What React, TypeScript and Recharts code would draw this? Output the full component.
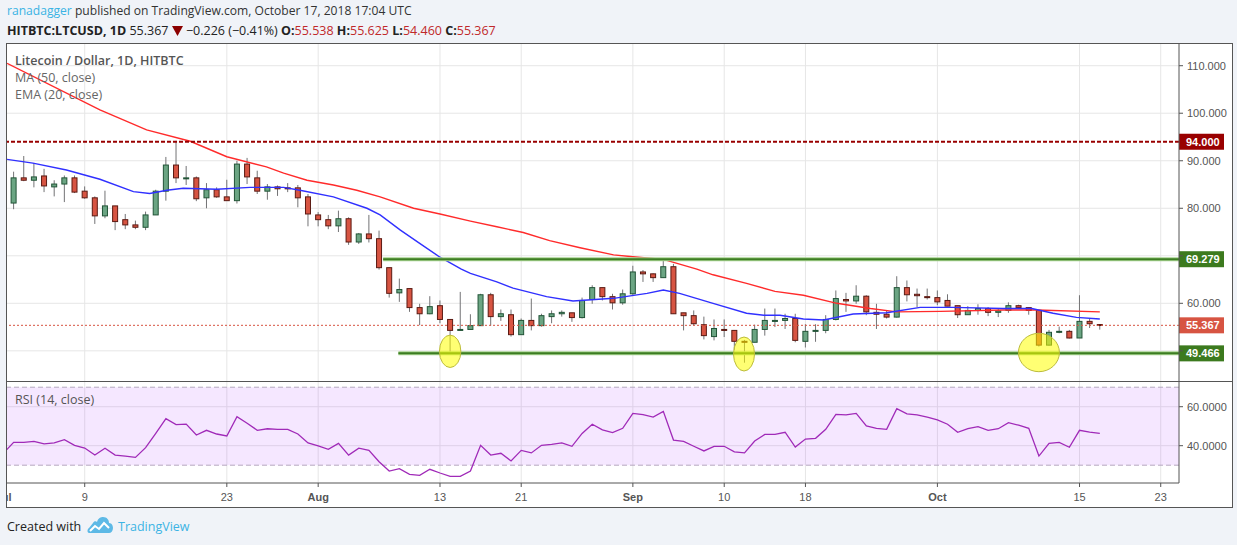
import React from 'react';
import {
  ComposedChart, Bar, Line, XAxis, YAxis, ReferenceLine, ReferenceArea, ReferenceDot, CartesianGrid,
} from 'recharts';

// ---- data (day index: Jul 1 2018 = 0) ----
const opens = [
  81.1, 86.4, 85.9, 86.8, 84.5, 85.1, 86.4, 83.6, 82.2, 78.4,
  80.5, 77.6, 76.5, 76.0, 78.6, 83.6, 89.1, 86.2, 86.4, 82.2,
  83.9, 82.4, 81.6, 89.3, 86.4, 83.6, 84.5, 84.3, 84.3, 82.4,
  78.6, 77.6, 76.3, 77.8, 72.9, 74.6, 73.6, 67.5, 62.2, 63.1,
  59.1, 57.8, 59.5, 56.6, 54.3, 54.5, 55.3, 61.8, 57.2, 57.6,
  53.4, 56.4, 55.3, 57.2, 57.8, 58.0, 57.0, 60.8, 63.3, 61.4,
  60.1, 62.0, 66.6, 66.2, 65.4, 67.7, 58.0, 57.4, 55.5, 53.0,
  54.5, 54.3, 52.0, 51.8, 54.5, 56.2, 56.4, 56.8, 52.0, 54.2,
  54.3, 56.6, 60.8, 60.5, 61.5, 58.1, 57.7, 57.1, 63.3, 61.9,
  61.4, 61.2, 60.6, 59.5, 57.6, 58.5, 58.9, 58.1, 58.5, 59.5,
  59.1, 58.5, 51.2, 53.9, 54.1, 52.7, 56.2, 55.538,
];
const highs = [
  87.7, 91.0, 89.5, 88.3, 85.9, 86.9, 86.9, 84.6, 82.5, 83.7,
  80.5, 78.8, 77.4, 79.3, 83.9, 90.8, 94.2, 88.9, 86.7, 85.3,
  84.4, 86.0, 90.0, 90.6, 87.9, 85.1, 84.8, 85.3, 84.9, 83.0,
  79.2, 78.6, 79.5, 78.1, 74.8, 78.6, 75.3, 67.5, 65.2, 63.1,
  59.9, 61.5, 60.6, 56.6, 62.4, 57.7, 62.0, 62.2, 58.7, 58.7,
  56.8, 61.0, 57.8, 58.5, 58.5, 58.0, 61.2, 63.8, 63.3, 62.0,
  62.9, 67.9, 67.0, 66.3, 69.3, 68.3, 58.0, 58.5, 57.2, 56.6,
  56.6, 54.3, 52.3, 55.5, 58.9, 58.9, 57.8, 57.8, 55.6, 55.6,
  57.5, 62.7, 62.2, 63.8, 61.7, 59.9, 58.5, 65.7, 64.8, 63.1,
  63.1, 62.7, 61.9, 59.5, 59.4, 59.8, 59.2, 58.8, 60.2, 59.7,
  59.2, 58.5, 54.4, 55.1, 54.4, 61.7, 56.9, 55.625,
];
const lows = [
  79.8, 85.7, 84.4, 83.4, 82.5, 81.3, 83.2, 82.0, 76.7, 77.9,
  75.4, 75.6, 75.6, 75.4, 78.6, 81.6, 85.3, 84.9, 81.5, 80.0,
  82.2, 81.6, 81.0, 85.1, 83.0, 81.8, 82.6, 83.4, 80.2, 76.2,
  76.2, 75.6, 75.0, 72.3, 72.5, 72.8, 67.1, 61.2, 60.3, 58.2,
  55.4, 57.7, 55.8, 49.5, 54.3, 54.5, 55.3, 55.3, 56.3, 53.0,
  53.4, 54.3, 55.1, 55.8, 57.2, 56.1, 56.8, 59.9, 60.6, 58.7,
  59.7, 61.8, 64.5, 64.5, 65.4, 57.8, 54.3, 55.3, 52.4, 52.2,
  52.9, 50.2, 47.5, 51.8, 53.2, 55.0, 54.6, 51.8, 50.7, 51.9,
  53.7, 56.4, 58.2, 59.9, 57.5, 54.6, 56.8, 57.0, 60.4, 59.2,
  60.8, 59.6, 59.4, 56.9, 57.6, 57.6, 57.3, 57.1, 58.0, 58.8,
  57.6, 50.9, 51.1, 53.7, 52.6, 52.7, 54.8, 54.46,
];
const closes = [
  86.4, 85.9, 86.6, 84.7, 85.1, 86.4, 83.4, 82.2, 78.4, 80.5,
  77.2, 76.5, 76.0, 78.6, 83.6, 89.1, 86.4, 86.4, 82.0, 83.9,
  82.4, 81.6, 89.3, 86.6, 83.6, 84.5, 84.1, 84.1, 82.2, 78.8,
  77.6, 76.3, 77.8, 72.9, 74.6, 73.6, 67.5, 62.1, 62.9, 59.1,
  57.8, 59.3, 56.6, 54.3, 54.5, 55.3, 61.8, 57.2, 57.8, 53.4,
  56.4, 55.3, 57.4, 57.8, 58.1, 57.0, 60.6, 63.3, 61.4, 60.1,
  62.0, 66.6, 66.2, 65.4, 67.7, 57.8, 57.4, 55.7, 53.2, 54.7,
  54.4, 52.0, 51.8, 54.5, 56.4, 56.4, 56.8, 52.2, 54.1, 54.3,
  56.6, 61.0, 60.5, 61.5, 58.2, 57.7, 57.1, 63.3, 61.8, 61.6,
  61.2, 60.3, 59.4, 57.6, 58.5, 58.9, 58.1, 58.4, 59.5, 59.1,
  58.5, 51.2, 53.9, 54.1, 52.7, 56.2, 55.7, 55.367,
];
const firstCandleDay = 1;

const ma50Points: [number, number][] = [
  [0.35, 110.5], [9.5, 100.7], [14.1, 96.5], [18.4, 94.1], [22, 90.85], [25.9, 88.7],
  [27.6, 87.4], [29.9, 85.9], [32.5, 84.9], [34.8, 83.8], [37.1, 82.4], [40.4, 80.0],
  [43, 78.8], [46, 77.3], [48.6, 76.1], [51.2, 74.9], [53.8, 73.2], [56.8, 71.7],
  [60.1, 70.2], [62, 69.8], [65, 69.25], [68.3, 67.2], [69.9, 66.0], [73.2, 64.2],
  [76, 62.5], [78.8, 61.7], [82.1, 60.0], [85.4, 58.9], [88, 58.2], [92.3, 58.3],
  [98.5, 58.6], [101.8, 58.6], [108, 58.2],
];
const ema20Points: [number, number][] = [
  [0.35, 90.3], [2.9, 89.5], [6.2, 88.05], [9.5, 86.1], [12.8, 83.5], [14.4, 83.1],
  [16.1, 83.8], [17.7, 84.2], [21, 84.0], [24.3, 84.4], [27.6, 84.4], [29.2, 83.8],
  [32.5, 82.4], [35.8, 80.0], [37.1, 78.6], [39.1, 75.4], [41, 72.6], [43, 69.7],
  [45.1, 67.2], [46, 66.3], [48.6, 64.5], [50.2, 63.2], [53.5, 61.4], [56.1, 60.5],
  [60.1, 61.05], [63.4, 62.1], [65, 62.8], [66.6, 62.1], [69.9, 60.0], [73.2, 57.9],
  [74.9, 57.5], [76.5, 57.5], [78.8, 56.7], [80.8, 56.5], [83.7, 57.75], [87, 58.0],
  [90.3, 59.15], [93.5, 59.15], [98.5, 58.9], [101.3, 58.9], [103.4, 57.9], [105.7, 57.05],
  [108, 56.7],
];
const rsiValues = [
  36.2, 41.7, 41.7, 42.2, 40.9, 41.4, 43.1, 40.2, 38.8, 35.2,
  38.7, 35.2, 34.7, 34.0, 39.0, 46.3, 53.9, 50.8, 51.1, 45.5,
  47.9, 46.0, 45.0, 54.9, 51.5, 47.9, 48.7, 48.4, 48.4, 46.0,
  41.4, 39.9, 38.1, 41.2, 35.2, 38.7, 37.6, 31.8, 27.0, 28.2,
  25.3, 24.8, 27.9, 26.0, 24.3, 24.3, 27.0, 40.2, 35.2, 36.1,
  32.2, 37.6, 36.3, 40.2, 40.7, 41.4, 39.7, 46.3, 51.0, 48.1,
  46.7, 48.9, 56.6, 55.9, 54.7, 57.6, 42.9, 42.2, 39.7, 37.3,
  39.7, 39.7, 36.8, 36.3, 42.4, 45.8, 45.8, 46.9, 39.3, 43.4,
  43.8, 48.4, 56.1, 55.8, 56.6, 50.1, 48.9, 48.4, 59.0, 56.3,
  55.8, 54.6, 53.2, 51.0, 46.9, 48.7, 49.8, 47.9, 48.7, 51.8,
  50.5, 48.9, 34.7, 41.2, 41.7, 39.2, 47.9, 47.0, 46.3,
];

const xTicks = [0, 8, 22, 31, 43, 51, 62, 71, 79, 92, 106, 114];
const xTickLabels = ['Jul', '9', '23', 'Aug', '13', '21', 'Sep', '10', '18', 'Oct', '15', '23'];
const monthLabels = ['Jul', 'Aug', 'Sep', 'Oct'];
const priceTicks = [50, 60, 70, 80, 90, 100, 110];
const hiddenPriceLabels = [50, 70];
const rsiTicks = [40, 60];
const rsiBand = [30, 70];

const resistanceLevel = 94;
const upperLevel = 69.279;
const lowerLevel = 49.466;
const upperLevelStart = 37.4;
const lowerLevelStart = 38.9;
const lastPrice = 55.367;

const highlightDays = [44, 72.95, 102];
const highlightPrices = [49.9, 49.33, 49.65];

// ---- layout constants ----
const xDomain: [number, number] = [0.345, 115.8];
const priceDomain: [number, number] = [43.65, 114.57];
const rsiDomain: [number, number] = [20.87, 72.67];
const highlightRadii = [[10.7, 16.2], [10.5, 17], [20.5, 19.2]];

const FONT = '"Open Sans", "Noto Sans", sans-serif';
const AXIS_FONT = '"Liberation Sans", Arial, sans-serif';
const RED_TXT = '#c0282a';

const candles = opens.map((o, i) => ({
  d: i + firstCandleDay, open: o, high: highs[i], low: lows[i], close: closes[i],
}));
const ma50Data = ma50Points.map(([d, v]) => ({ d, v }));
const ema20Data = ema20Points.map(([d, v]) => ({ d, v }));
const rsiData = rsiValues.map((v, i) => ({ d: i, v }));
const gridDays = xTicks.slice(1);

const Candle = (props: any) => {
  const { x, y, width, height, payload } = props;
  if (x == null || y == null) return null;
  const { open, close, high, low } = payload;
  const cx = x + width / 2;
  const k = high !== low ? height / (high - low) : 0;
  const yO = y + (high - open) * k;
  const yC = y + (high - close) * k;
  const up = close >= open;
  const top = Math.min(yO, yC);
  const h = Math.max(Math.abs(yC - yO), 1);
  return (
    <g>
      <line x1={cx} x2={cx} y1={y} y2={y + height} stroke="#737375" strokeWidth={1} />
      <rect x={cx - 2.5} y={top} width={5} height={h}
        fill={up ? '#6ba583' : '#d75442'} stroke={up ? '#225437' : '#5b1a13'} strokeWidth={1} />
    </g>
  );
};

const PriceTick = (props: any) => {
  const { x, y, payload } = props;
  if (hiddenPriceLabels.includes(payload.value)) return <g />;
  return (
    <text x={x} y={y} dy="0.355em" textAnchor="start" fill="#555" fontSize={11} fontFamily={AXIS_FONT}>
      {Number(payload.value).toFixed(3)}
    </text>
  );
};

const RsiTick = (props: any) => {
  const { x, y, payload } = props;
  return (
    <text x={x} y={y} dy="0.355em" textAnchor="start" fill="#555" fontSize={11} fontFamily={AXIS_FONT}>
      {Number(payload.value).toFixed(4)}
    </text>
  );
};

const DateTick = (props: any) => {
  const { x, y, payload } = props;
  const label = xTickLabels[xTicks.indexOf(payload.value)] ?? '';
  const bold = monthLabels.includes(label);
  return (
    <text x={x} y={y} dy="0.71em" textAnchor="middle" fill="#555" fontSize={11}
      fontWeight={bold ? 'bold' : 'normal'} fontFamily={AXIS_FONT}>
      {label}
    </text>
  );
};

const tag = (text: string, bg: string) => (props: any) => {
  const vb = props.viewBox || {};
  const x = (vb.x ?? 0) + (vb.width ?? 0);
  const y = vb.y ?? 0;
  return (
    <g>
      <rect x={x} y={y - 8} width={45} height={16} fill={bg} />
      <text x={x + 7} y={y} dy="0.36em" fill="#fff" fontSize={11} fontWeight="bold" fontFamily={AXIS_FONT}>
        {text}
      </text>
    </g>
  );
};

const ellipseShape = (i: number) => (props: any) => (
  <ellipse cx={props.cx} cy={props.cy} rx={highlightRadii[i][0]} ry={highlightRadii[i][1]}
    fill="rgba(255,255,0,0.55)" stroke="#bcbc3c" strokeWidth={1} />
);

export default function App() {
  return (
    <div style={{ position: 'absolute', left: 0, top: 0, width: 1237, height: 545, background: '#f0f3f8', overflow: 'hidden', fontFamily: FONT }}>
      {/* header */}
      <div style={{ position: 'absolute', left: 7, top: 2, fontSize: 12.1, lineHeight: '18px', color: '#333', whiteSpace: 'nowrap' }}>
        <span style={{ color: '#3bb3e4' }}>ranadagger</span> published on TradingView.com, October 17, 2018 17:04 UTC
      </div>
      <div style={{ position: 'absolute', left: 7, top: 22, fontSize: 12.5, lineHeight: '18px', color: '#222', whiteSpace: 'nowrap' }}>
        <b>HITBTC:LTCUSD, 1D</b> 55.367{' '}
        <svg width={11} height={10} style={{ display: 'inline-block', verticalAlign: '-1px' }}>
          <polygon points="0,0 11,0 5.5,10" fill="#8b0000" />
        </svg>
        {' '}−0.226 (−0.41%){' '}
        <b>O:</b><span style={{ color: RED_TXT }}>55.538</span>{' '}
        <b>H:</b><span style={{ color: RED_TXT }}>55.625</span>{' '}
        <b>L:</b><span style={{ color: RED_TXT }}>54.460</span>{' '}
        <b>C:</b><span style={{ color: RED_TXT }}>55.367</span>
      </div>

      {/* frame */}
      <div style={{ position: 'absolute', left: 6, top: 43, width: 1227, height: 465, boxSizing: 'border-box', border: '1px solid #555', background: '#fff' }} />
      <div style={{ position: 'absolute', left: 7, top: 381, width: 1225, height: 1, background: '#555' }} />

      {/* price pane */}
      <div style={{ position: 'absolute', left: 7, top: 44 }}>
        <ComposedChart width={1225} height={337} data={candles} margin={{ top: 0, right: 0, bottom: 0, left: 0 }}>
          <CartesianGrid stroke="#e6e6e6" horizontalValues={priceTicks} verticalValues={gridDays} />
          <XAxis type="number" dataKey="d" domain={xDomain} allowDataOverflow hide ticks={gridDays} />
          <YAxis orientation="right" type="number" domain={priceDomain} allowDataOverflow ticks={priceTicks}
            interval={0} width={53} tick={<PriceTick />} tickSize={4} tickMargin={4}
            axisLine={{ stroke: '#555' }} tickLine={{ stroke: '#555' }} />
          <ReferenceLine y={lastPrice} stroke="#d75442" strokeWidth={1} strokeDasharray="2 2"
            label={tag('55.367', '#d75442')} />
          <Bar dataKey={(e: any) => [e.low, e.high]} shape={<Candle />} barSize={7} isAnimationActive={false} />
          <Line data={ma50Data} dataKey="v" type="linear" stroke="#ff2b2b" strokeWidth={1.4} dot={false}
            activeDot={false} isAnimationActive={false} />
          <Line data={ema20Data} dataKey="v" type="linear" stroke="#3030ff" strokeWidth={1.4} dot={false}
            activeDot={false} isAnimationActive={false} />
          <ReferenceLine y={resistanceLevel} stroke="#990000" strokeWidth={2} strokeDasharray="4 2"
            label={tag('94.000', '#990000')} />
          <ReferenceLine segment={[{ x: upperLevelStart, y: upperLevel }, { x: xDomain[1], y: upperLevel }]}
            stroke="#a6d28f" strokeWidth={4} />
          <ReferenceLine segment={[{ x: upperLevelStart, y: upperLevel }, { x: xDomain[1], y: upperLevel }]}
            stroke="#3c7d22" strokeWidth={2} label={tag('69.279', '#3c7a1e')} />
          <ReferenceLine segment={[{ x: lowerLevelStart, y: lowerLevel }, { x: xDomain[1], y: lowerLevel }]}
            stroke="#a6d28f" strokeWidth={4} />
          <ReferenceLine segment={[{ x: lowerLevelStart, y: lowerLevel }, { x: xDomain[1], y: lowerLevel }]}
            stroke="#3c7d22" strokeWidth={2} label={tag('49.466', '#3c7a1e')} />
          {highlightDays.map((d, i) => (
            <ReferenceDot key={i} x={d} y={highlightPrices[i]} r={10} shape={ellipseShape(i)} />
          ))}
        </ComposedChart>
      </div>

      {/* legend */}
      <div style={{ position: 'absolute', left: 15, top: 52, fontSize: 12.5, lineHeight: '17px', whiteSpace: 'nowrap' }}>
        <div style={{ color: '#555', fontWeight: 600 }}>Litecoin / Dollar, 1D, HITBTC</div>
        <div style={{ color: '#666' }}>MA (50, close)</div>
        <div style={{ color: '#666' }}>EMA (20, close)</div>
      </div>

      {/* RSI pane */}
      <div style={{ position: 'absolute', left: 7, top: 382 }}>
        <ComposedChart width={1225} height={125} data={rsiData} margin={{ top: 0, right: 0, bottom: 0, left: 0 }}>
          <CartesianGrid stroke="#e6e6e6" horizontalValues={rsiTicks} verticalValues={gridDays} />
          <XAxis type="number" dataKey="d" domain={xDomain} allowDataOverflow ticks={xTicks} interval={0}
            height={24} tick={<DateTick />} tickSize={4} tickMargin={6}
            axisLine={{ stroke: '#555' }} tickLine={{ stroke: '#555' }} />
          <YAxis orientation="right" type="number" domain={rsiDomain} allowDataOverflow ticks={rsiTicks}
            interval={0} width={53} tick={<RsiTick />} tickSize={4} tickMargin={4}
            axisLine={{ stroke: '#555' }} tickLine={{ stroke: '#555' }} />
          <ReferenceArea y1={rsiBand[0]} y2={rsiBand[1]} fill="#9915ff" fillOpacity={0.1} stroke="none" />
          <ReferenceLine y={rsiBand[1]} stroke="#b5a9bf" strokeDasharray="5 3" />
          <ReferenceLine y={rsiBand[0]} stroke="#b5a9bf" strokeDasharray="5 3" />
          <Line dataKey="v" type="linear" stroke="#a02ab8" strokeWidth={1.3} dot={false}
            activeDot={false} isAnimationActive={false} />
        </ComposedChart>
      </div>
      <div style={{ position: 'absolute', left: 15, top: 391, fontSize: 12.5, lineHeight: '17px', color: '#555', whiteSpace: 'nowrap' }}>
        RSI (14, close)
      </div>

      {/* footer */}
      <div style={{ position: 'absolute', left: 7, top: 518, fontSize: 12.5, lineHeight: '18px', color: '#222', whiteSpace: 'nowrap' }}>
        Created with
      </div>
      <svg width={27} height={17} style={{ position: 'absolute', left: 87, top: 517 }}>
        <path d="M2 16 C0 16 0 12 2 11 L6 6 C7 4 9 4 10 5 C11 1 14 0 16 0 C20 0 22 3 22 6 C25 6 26 9 26 11 C26 14 24 16 22 16 Z"
          fill="#5db9e6" />
        <polyline points="3,14 8,9 12,12 17,6 22,11" fill="none" stroke="#ffffff" strokeWidth={2} />
      </svg>
      <div style={{ position: 'absolute', left: 118, top: 518, fontSize: 12.5, lineHeight: '18px', color: '#3bb3e4', whiteSpace: 'nowrap' }}>
        TradingView
      </div>
    </div>
  );
}
